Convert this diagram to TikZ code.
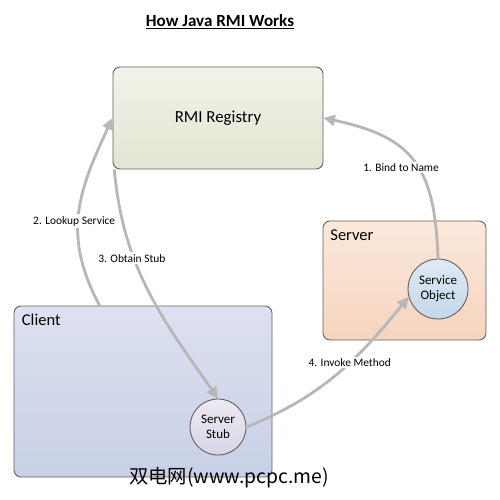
\documentclass[tikz,border=0pt]{standalone}
\usepackage{fontspec}
\setmainfont{Carlito}
\newfontfamily\cjkfont{Noto Sans CJK SC}
\usetikzlibrary{arrows.meta,positioning,calc}
\definecolor{edgeGray}{RGB}{95,95,95}
\definecolor{flowGray}{RGB}{183,183,183}
\definecolor{regTop}{RGB}{241,243,232}
\definecolor{regBot}{RGB}{224,230,210}
\definecolor{srvTop}{RGB}{251,233,220}
\definecolor{srvBot}{RGB}{245,212,189}
\definecolor{cliTop}{RGB}{221,225,240}
\definecolor{cliBot}{RGB}{200,208,231}
\definecolor{objTop}{RGB}{222,233,243}
\definecolor{objBot}{RGB}{196,216,234}
\definecolor{stubTop}{RGB}{236,233,242}
\definecolor{stubBot}{RGB}{218,213,230}

\begin{document}
\begin{tikzpicture}[
  box/.style={draw=edgeGray,line width=0.5pt,rounded corners=1.4mm,inner sep=0pt},
  objnode/.style={draw=edgeGray,line width=0.5pt,circle,inner sep=0pt,align=center,font=\fontsize{7.4}{8.5}\selectfont},
  tag/.style={anchor=north west,inner sep=0pt,font=\fontsize{9.4}{11}\selectfont},
  steplbl/.style={fill=white,text=black,inner sep=1pt,font=\fontsize{6.5}{8}\selectfont},
  call/.style={-{Triangle[length=2.3mm,width=2.2mm]},line width=1.6pt,flowGray}]
  \useasboundingbox (0,0) rectangle (10,-10);
  \node[font=\bfseries\fontsize{9.7}{12}\selectfont] (title) at (4.4,-0.44) {\underline{How Java RMI Works}};

  \node[box,top color=regTop,bottom color=regBot,minimum width=4.2cm,minimum height=2.04cm,font=\fontsize{9.6}{12}\selectfont] (reg) at (4.36,-2.36) {RMI Registry};
  \node[box,top color=srvTop,bottom color=srvBot,minimum width=3.26cm,minimum height=2.38cm] (server) at (8.09,-5.61) {};
  \node[box,top color=cliTop,bottom color=cliBot,minimum width=5.16cm,minimum height=3.42cm] (client) at (2.86,-7.83) {};
  \node[tag] (servertag) at ([shift={(0.15,-0.18)}]server.north west) {Server};
  \node[tag] (clienttag) at ([shift={(0.16,-0.17)}]client.north west) {Client};

  \node[objnode,top color=objTop,bottom color=objBot,minimum size=1.2cm] (obj) at (8.76,-5.78) {Service\\Object};
  \node[objnode,top color=stubTop,bottom color=stubBot,minimum size=1.12cm] (stub) at (4.36,-8.54) {Server\\Stub};

  \draw[call] (obj.north) to[out=92,in=-12,looseness=1.3] node[steplbl,pos=0.45,xshift=-0.34cm] (bind) {1. Bind to Name} (reg.east);
  \draw[call] ([xshift=1.72cm]client.north west) to[out=118,in=-115,looseness=1.1] node[steplbl,pos=0.45,xshift=-0.08cm] (lookup) {2. Lookup Service} (reg.west);
  \draw[call] ([xshift=1pt]reg.south west) to[out=-85,in=125] node[steplbl,pos=0.35,xshift=-0.04cm] (obtain) {3. Obtain Stub} (stub.north);
  \draw[call] (stub.east) to[out=22,in=-129] node[steplbl,pos=0.59] (invoke) {4. Invoke Method} (obj.195);

  \node[font=\cjkfont\fontsize{11}{13}\selectfont] (mark) at (4.58,-9.55) {双电网(www.pcpc.me)};
\end{tikzpicture}
\end{document}
